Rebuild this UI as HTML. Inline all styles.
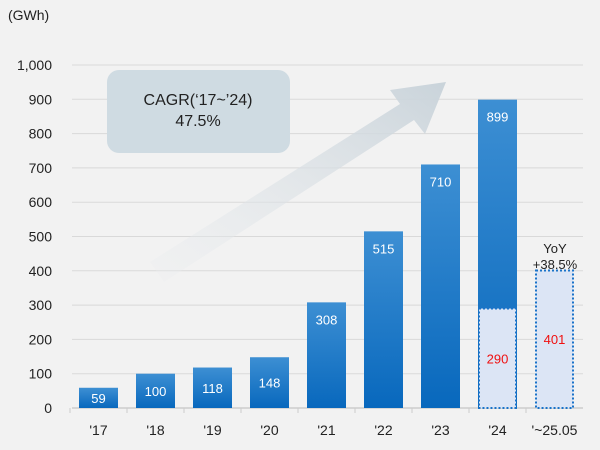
<!DOCTYPE html>
<html><head><meta charset="utf-8"><style>
body{margin:0;background:#f2f2f2;font-family:"Liberation Sans",sans-serif}
</style></head><body>
<svg width="600" height="445" viewBox="0 0 600 445" xmlns="http://www.w3.org/2000/svg" id="c">
<defs>
<linearGradient id="bg" x1="0" y1="0" x2="0" y2="1"><stop offset="0" stop-color="#3d8fd3"/><stop offset="1" stop-color="#0868bd"/></linearGradient>
<linearGradient id="ag" x1="0" y1="1" x2="1" y2="0"><stop offset="0" stop-color="#eceef0" stop-opacity="0.3"/><stop offset="1" stop-color="#c9d3da"/></linearGradient>
</defs>
<text x="8" y="20" font-size="14" fill="#222">(GWh)</text>
<g id="grid"></g>
<polygon points="150,262 400,104 390,90 446,82 425,134 414,120 164,282" fill="url(#ag)"/>
<rect x="107" y="70" width="183" height="83" rx="12" fill="#cfdbe2"/>
<text x="198" y="105" font-size="16" text-anchor="middle" fill="#222">CAGR(‘17~’24)</text>
<text x="198" y="126" font-size="16" text-anchor="middle" fill="#222">47.5%</text>
<g id="bars"></g>
<text x="555" y="253" font-size="13" text-anchor="middle" fill="#222">YoY</text>
<text x="555" y="269" font-size="13" text-anchor="middle" fill="#222">+38.5%</text>
</svg>
<script>
const categories=["'17","'18","'19","'20","'21","'22","'23","'24","'~25.05"];
const values=[59,100,118,148,308,515,710,899,null];
const partialValues=[null,null,null,null,null,null,null,290,401];
const yTicks=[0,100,200,300,400,500,600,700,800,900,1000];
const yTickLabels=["0","100","200","300","400","500","600","700","800","900","1,000"];
const NS="http://www.w3.org/2000/svg";
const y0=408,yScale=0.343,x0=79,step=57,bw=39;
const y=v=>y0-v*yScale;
const xb=i=>x0+i*step;
function mk(t,a,p){const e=document.createElementNS(NS,t);for(const k in a)e.setAttribute(k,a[k]);p.appendChild(e);return e;}
const grid=document.getElementById('grid'),bars=document.getElementById('bars');
yTicks.forEach((v,i)=>{
 if(v>0){const l=mk('line',{x1:72,x2:583,y1:y(v),y2:y(v),stroke:'#d9d9d9','stroke-width':1},grid);
 
 }
 const t=mk('text',{x:52,y:y(v)+5,'font-size':14,'text-anchor':'end',fill:'#222'},grid);
 t.textContent=yTickLabels[i];
 
 
});
const ax=mk('line',{x1:72,x2:583,y1:y0,y2:y0,stroke:'#ccc','stroke-width':1.5},grid);


categories.forEach((c,i)=>{
 const tk=mk('line',{x1:xb(i)-9,x2:xb(i)-9,y1:y0,y2:y0+5,stroke:'#ccc'},grid);
 
 
 const cx=xb(i)+bw/2;
 if(values[i]!=null){
  const r=mk('rect',{x:xb(i),y:y(values[i]),width:bw,height:values[i]*yScale,fill:'url(#bg)'},bars);
  
  
  const t=mk('text',{x:cx,y:(values[i]<200?y(values[i])+values[i]*yScale/2+5:y(values[i])+22),'font-size':13,'text-anchor':'middle',fill:'#fff'},bars);
  t.textContent=values[i];
  
  
 }
 if(partialValues[i]!=null){
  const r=mk('rect',{x:xb(i)+1,y:y(partialValues[i]),width:bw-2,height:partialValues[i]*yScale,fill:'#dce5f5',stroke:'#1a73c9','stroke-width':2,'stroke-dasharray':'2,2'},bars);
  
  
  const t=mk('text',{x:cx,y:y(partialValues[i]/2)+5,'font-size':13,'text-anchor':'middle',fill:'#f01010'},bars);
  t.textContent=partialValues[i];
  
  
 }
 const xl=mk('text',{x:cx,y:435,'font-size':14,'text-anchor':'middle',fill:'#222'},bars);
 xl.textContent=c;
 
 
});
</script>
</body></html>
